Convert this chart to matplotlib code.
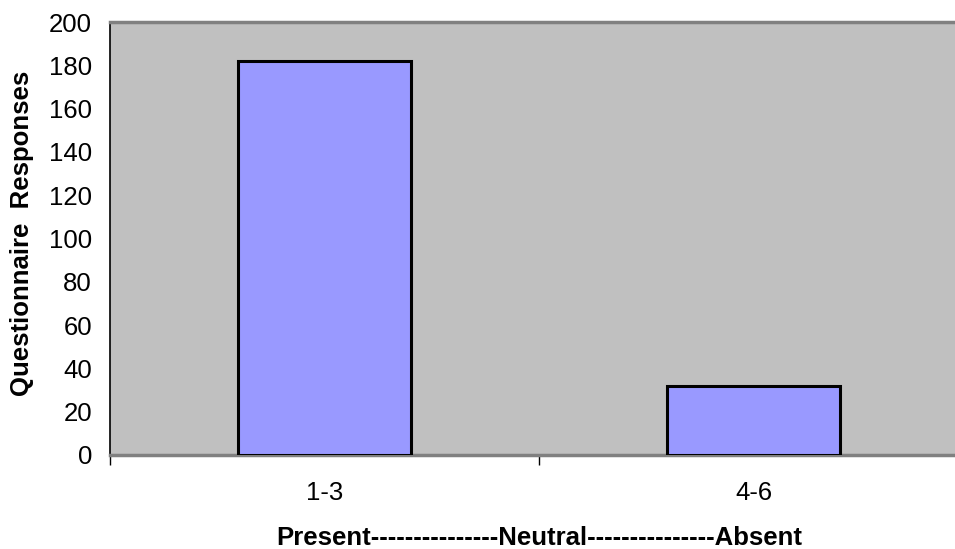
import numpy as np
import matplotlib.pyplot as plt

categories = ['1-3', '4-6']
responses = [182, 32]
y_ticks = [0, 20, 40, 60, 80, 100, 120, 140, 160, 180, 200]

plt.rcParams['font.family'] = ['Liberation Sans', 'DejaVu Sans']

W, H = 955, 549
fig = plt.figure(figsize=(W / 100, H / 100), dpi=100)
# plot area runs past the right edge of the canvas
ax = fig.add_axes([110 / W, 1 - 455 / H, 858 / W, 433 / H])
ax.set_facecolor('#C0C0C0')

x = np.arange(len(categories))
ax.bar(x, responses, width=0.405, color='#9999FF', edgecolor='black', linewidth=2.2, zorder=3)

ax.set_xlim(-0.5, len(categories) - 0.5)
ax.set_ylim(0, 200)
ax.set_yticks(y_ticks)
ax.tick_params(axis='y', length=0, labelsize=18.5, pad=13)

ax.set_xticks(x)
ax.set_xticklabels(categories)
ax.set_xticks(np.arange(-0.5, len(categories)), minor=True)
ax.tick_params(axis='x', which='major', length=0, labelsize=18.5, pad=19)
ax.tick_params(axis='x', which='minor', length=7, width=1, color='black', direction='out')

for side in ['top', 'bottom']:
    ax.spines[side].set_color('#808080')
    ax.spines[side].set_linewidth(2.5)
ax.spines['left'].set_color('black')
ax.spines['left'].set_linewidth(1.2)
ax.spines['right'].set_visible(False)

fig.text(539 / W, 1 - 538 / H, 'Present---------------Neutral---------------Absent',
         ha='center', va='center', fontsize=18.5, fontweight='bold')
fig.text(22 / W, 1 - 233 / H, 'Questionnaire  Responses', rotation=90,
         ha='center', va='center', fontsize=18.5, fontweight='bold')

fig.savefig('out.png', dpi=100)
